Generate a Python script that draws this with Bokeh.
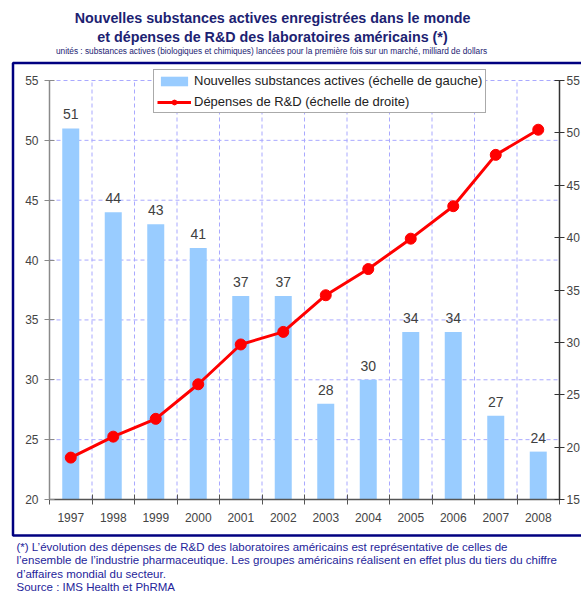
from bokeh.plotting import figure
from bokeh.models import (Range1d, LinearAxis, FixedTicker, ColumnDataSource, Label,
                          LabelSet, BoxAnnotation, Legend, LegendItem)
from bokeh.core.properties import value
from bokeh.embed import file_html
from bokeh.resources import INLINE

# ---- data ----
years = ["1997", "1998", "1999", "2000", "2001", "2002", "2003", "2004", "2005", "2006", "2007", "2008"]
substances = [51, 44, 43, 41, 37, 37, 28, 30, 34, 34, 27, 24]
rd_spending = [19.0, 21.0, 22.7, 26.0, 29.8, 31.0, 34.5, 37.0, 39.9, 43.0, 47.9, 50.3]
left_ticks = [20, 25, 30, 35, 40, 45, 50, 55]
right_ticks = [15, 20, 25, 30, 35, 40, 45, 50, 55]

title1 = "Nouvelles substances actives enregistrées dans le monde"
title2 = "et dépenses de R&D des laboratoires américains (*)"
subtitle = ("unités : substances actives (biologiques et chimiques) lancées pour la première fois "
            "sur un marché, milliard de dollars")
footnotes = [
    "(*) L’évolution des dépenses de R&D des laboratoires américains est représentative de celles de",
    "l’ensemble de l’industrie pharmaceutique. Les groupes américains réalisent en effet plus du tiers du chiffre",
    "d’affaires mondial du secteur.",
    "Source : IMS Health et PhRMA",
]
legend_bar = "Nouvelles substances actives (échelle de gauche)"
legend_line = "Dépenses de R&D (échelle de droite)"

# ---- layout (canvas pixels) ----
W, H = 581, 592
CL, CR, CT, CB = 49, 559, 80, 499   # chart rectangle

FONT = "Liberation Sans"
NAVY = "#1c2272"
FOOT = "#24249a"
GRID = "#a9a9ff"

n = len(years)
centers = [i + 0.5 for i in range(n)]
bounds = list(range(n + 1))

# ranges so that the chart rectangle maps to the data extent; frame = whole canvas
xpx = (CR - CL) / n
x0 = 0 - CL / xpx
x1 = n + (W - CR) / xpx
lpx = (CB - CT) / (left_ticks[-1] - left_ticks[0])
ly0 = left_ticks[0] - (H - CB) / lpx
ly1 = left_ticks[-1] + CT / lpx
rpx = (CB - CT) / (right_ticks[-1] - right_ticks[0])
ry0 = right_ticks[0] - (H - CB) / rpx
ry1 = right_ticks[-1] + CT / rpx

src = ColumnDataSource(dict(x=centers, year=years, subs=substances,
                            lab=[str(v) for v in substances], rd=rd_spending))

p = figure(width=W, height=H, output_backend="svg", toolbar_location=None,
           x_range=Range1d(x0, x1), y_range=Range1d(ly0, ly1), min_border=0)
p.extra_y_ranges = {"rd": Range1d(ry0, ry1)}
p.outline_line_color = None
p.background_fill_color = "white"
p.border_fill_color = "white"
p.grid.visible = False

# dashed grid lines
p.segment(x0=bounds[1:-1], x1=bounds[1:-1], y0=left_ticks[0], y1=left_ticks[-1],
          line_color=GRID, line_dash="4 3", line_width=1)
p.segment(x0=0, x1=n, y0=left_ticks[1:], y1=left_ticks[1:],
          line_color=GRID, line_dash="4 3", line_width=1)

# bottom axis
xa = p.xaxis[0]
xa.fixed_location = left_ticks[0]
xa.bounds = (0, n)
xa.ticker = FixedTicker(ticks=centers, minor_ticks=bounds)
xa.major_label_overrides = {c: y for c, y in zip(centers, years)}
xa.major_tick_line_color = None
xa.major_tick_in = 0
xa.major_tick_out = 5
xa.minor_tick_in = 5
xa.minor_tick_out = 5
xa.minor_tick_line_color = "#555555"
xa.axis_line_color = "#555555"
xa.axis_line_width = 1.5
xa.major_label_standoff = 8
xa.major_label_text_font = FONT
xa.major_label_text_font_size = "12px"
xa.major_label_text_color = "#444444"

# left axis
ya = p.yaxis[0]
ya.fixed_location = 0
ya.bounds = (left_ticks[0], left_ticks[-1])
ya.ticker = FixedTicker(ticks=left_ticks)
ya.axis_line_color = "#8a8a8a"
ya.axis_line_width = 1.5
ya.major_tick_line_color = "#8a8a8a"
ya.major_tick_in = 5
ya.major_tick_out = 5
ya.minor_tick_line_color = None
ya.major_label_standoff = 6
ya.major_label_text_font = FONT
ya.major_label_text_font_size = "12px"
ya.major_label_text_color = "#444444"

# right axis
ra = LinearAxis(y_range_name="rd", ticker=FixedTicker(ticks=right_ticks),
                fixed_location=n, bounds=(right_ticks[0], right_ticks[-1]))
ra.axis_line_color = "#333333"
ra.axis_line_width = 1.5
ra.major_tick_line_color = "#333333"
ra.major_tick_in = 5
ra.major_tick_out = 5
ra.minor_tick_line_color = None
ra.major_label_standoff = 2
ra.major_label_text_font = FONT
ra.major_label_text_font_size = "12px"
ra.major_label_text_color = "#444444"
p.add_layout(ra, "right")

# bars
bars = p.vbar(x="x", top="subs", bottom=left_ticks[0], width=0.4, source=src,
              fill_color="#99ccff", line_color=None)
labels = LabelSet(x="x", y="subs", text="lab", source=src, y_offset=9,
                  text_align="center", text_baseline="alphabetic",
                  text_font=value(FONT), text_font_size="14px", text_color="#404040")
p.add_layout(labels)

# line
ln = p.line(x="x", y="rd", source=src, y_range_name="rd", line_color="#ff0000", line_width=3)
pts = p.scatter(x="x", y="rd", source=src, y_range_name="rd", size=11,
                fill_color="#ff0000", line_color="#ff0000")


def sx(cx):
    return cx


def sy(cy):
    return H - cy


legend = Legend(items=[LegendItem(label=legend_bar, renderers=[bars]),
                       LegendItem(label=legend_line, renderers=[ln, pts])],
                location=(sx(153), sy(113)))
legend.border_line_color = "#555555"
legend.border_line_width = 1.5
legend.background_fill_color = "white"
legend.background_fill_alpha = 1
legend.label_text_font = FONT
legend.label_text_font_size = "13px"
legend.label_text_color = "#222222"
legend.glyph_width = 34
legend.glyph_height = 12
legend.label_height = 14
legend.spacing = 6
legend.padding = 3
legend.margin = 0
legend.label_standoff = 3
p.add_layout(legend)

# navy border box
p.add_layout(BoxAnnotation(left=sx(12.5), right=sx(595), top=sy(62.5), bottom=sy(535),
                           left_units="screen", right_units="screen",
                           top_units="screen", bottom_units="screen",
                           fill_alpha=0, line_color="#000080", line_alpha=1, line_width=2.5))

# titles
p.add_layout(Label(x=sx(272), y=sy(17), x_units="screen", y_units="screen", text=title1,
                   text_align="center", text_baseline="middle", text_font=FONT,
                   text_font_style="bold", text_font_size="14.3px", text_color=NAVY))
p.add_layout(Label(x=sx(272), y=sy(36), x_units="screen", y_units="screen", text=title2,
                   text_align="center", text_baseline="middle", text_font=FONT,
                   text_font_style="bold", text_font_size="14.3px", text_color=NAVY))
p.add_layout(Label(x=sx(271), y=sy(50), x_units="screen", y_units="screen", text=subtitle,
                   text_align="center", text_baseline="middle", text_font=FONT,
                   text_font_size="8.3px", text_color=NAVY))

foot_y = [546, 559.5, 573, 586]
for t, fy in zip(footnotes, foot_y):
    p.add_layout(Label(x=sx(16), y=sy(fy), x_units="screen", y_units="screen", text=t,
                       text_align="left", text_baseline="middle", text_font=FONT,
                       text_font_size="11.5px", text_color=FOOT))

open("out.html", "w").write(file_html(p, INLINE))
